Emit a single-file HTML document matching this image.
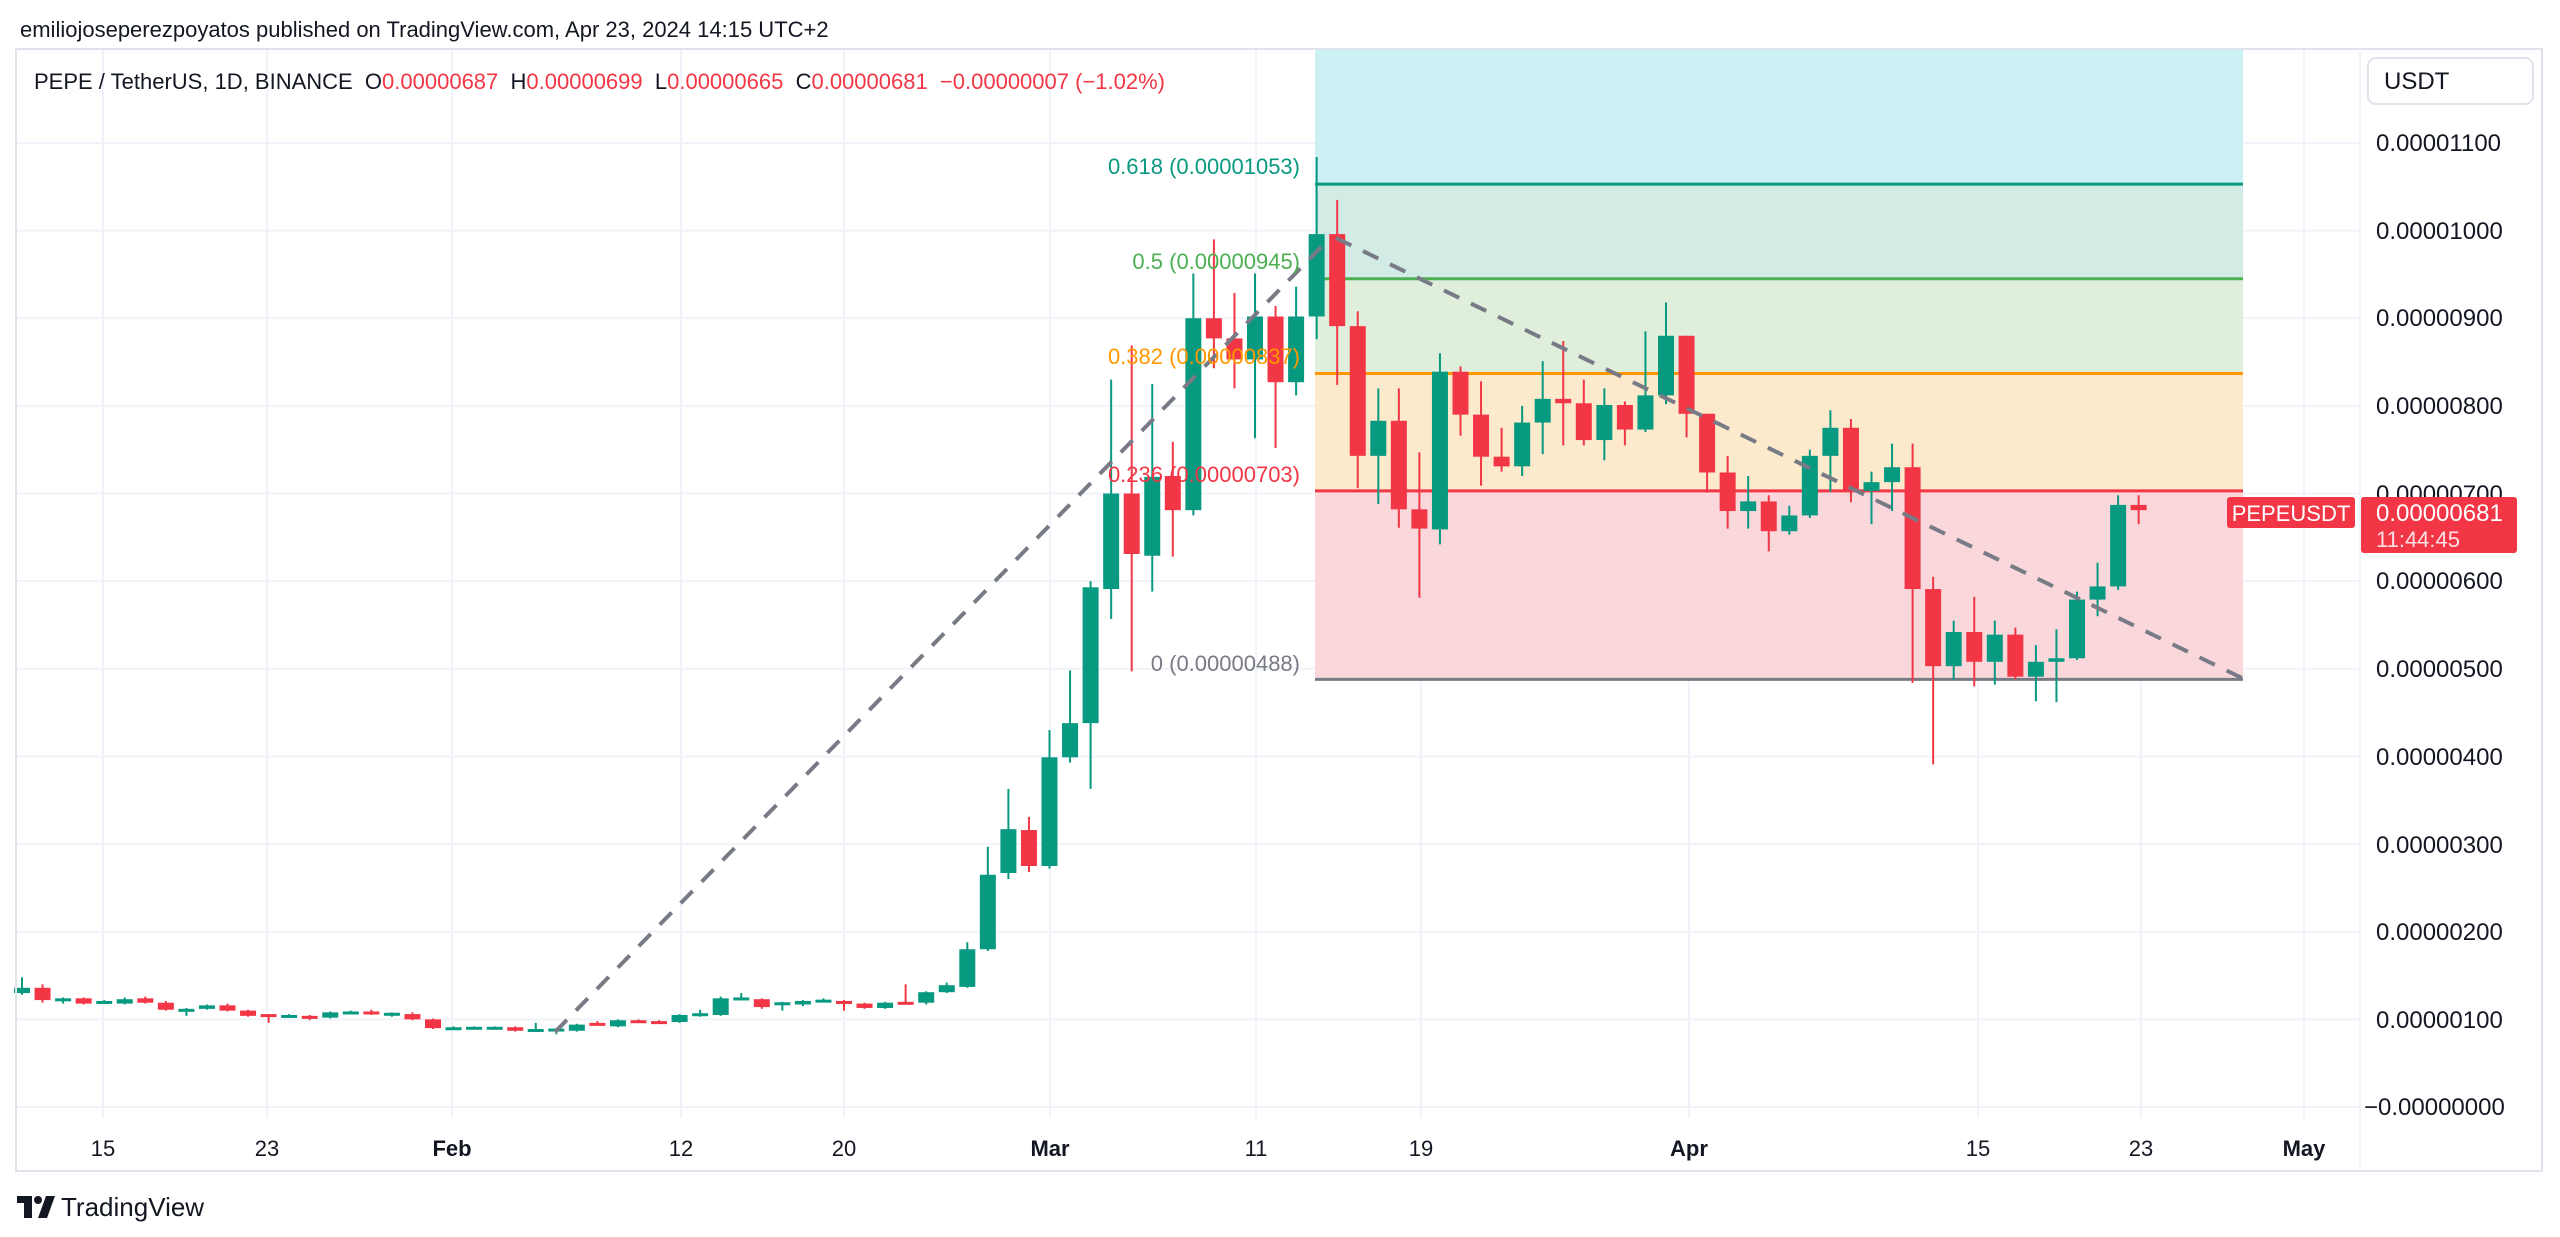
<!DOCTYPE html>
<html><head><meta charset="utf-8">
<style>
html,body{margin:0;padding:0;background:#fff;}
body{width:2560px;height:1237px;overflow:hidden;position:relative;font-family:"Liberation Sans",sans-serif;color:#131722;}
svg{position:absolute;left:0;top:0;}
</style></head><body>
<svg id="c" width="2560" height="1237" xmlns="http://www.w3.org/2000/svg" font-family="Liberation Sans, sans-serif">
<g id="grid" stroke="#f0f3fa" stroke-width="2"></g>
<g id="fib"></g>
<g id="cand"></g>
<g id="dash" stroke="#787b86" stroke-width="4" stroke-dasharray="17,13" fill="none">
<line x1="555" y1="1032" x2="1330" y2="238"/>
<line x1="1336" y1="238" x2="2242" y2="678"/>
</g>
<g font-size="22" text-anchor="end">
<text x="1300" y="174" fill="#089981">0.618 (0.00001053)</text>
<text x="1300" y="269" fill="#4caf50">0.5 (0.00000945)</text>
<text x="1300" y="364" fill="#ff9800">0.382 (0.00000837)</text>
<text x="1300" y="482" fill="#f23645">0.236 (0.00000703)</text>
<text x="1300" y="671" fill="#787b86">0 (0.00000488)</text>
</g>
<rect x="16" y="49" width="2526" height="1122" fill="none" stroke="#e0e3eb" stroke-width="2"/>
<line x1="2360" y1="49" x2="2360" y2="1171" stroke="#f0f3fa" stroke-width="2"/>
<text x="20" y="37" font-size="22" fill="#131722">emiliojoseperezpoyatos published on TradingView.com, Apr 23, 2024 14:15 UTC+2</text>
<text x="34" y="89" font-size="22" fill="#131722" xml:space="preserve">PEPE / TetherUS, 1D, BINANCE  O<tspan fill="#f23645">0.00000687</tspan>  H<tspan fill="#f23645">0.00000699</tspan>  L<tspan fill="#f23645">0.00000665</tspan>  C<tspan fill="#f23645">0.00000681  −0.00000007 (−1.02%)</tspan></text>
<rect x="2368" y="58" width="165" height="46" rx="8" fill="#fff" stroke="#e0e3eb" stroke-width="2"/>
<text x="2384" y="89" font-size="24" fill="#131722">USDT</text>
<g id="plab" font-size="24" fill="#131722">
<text x="2376" y="151">0.00001100</text>
<text x="2376" y="239">0.00001000</text>
<text x="2376" y="326">0.00000900</text>
<text x="2376" y="414">0.00000800</text>
<text x="2376" y="502">0.00000700</text>
<text x="2376" y="589">0.00000600</text>
<text x="2376" y="677">0.00000500</text>
<text x="2376" y="765">0.00000400</text>
<text x="2376" y="853">0.00000300</text>
<text x="2376" y="940">0.00000200</text>
<text x="2376" y="1028">0.00000100</text>
<text x="2364" y="1115">−0.00000000</text>
</g>
<g font-size="22" fill="#131722" text-anchor="middle">
<text x="103" y="1156">15</text><text x="267" y="1156">23</text>
<text x="452" y="1156" font-weight="bold">Feb</text>
<text x="681" y="1156">12</text><text x="844" y="1156">20</text>
<text x="1050" y="1156" font-weight="bold">Mar</text>
<text x="1256" y="1156">11</text><text x="1421" y="1156">19</text>
<text x="1689" y="1156" font-weight="bold">Apr</text>
<text x="1978" y="1156">15</text><text x="2141" y="1156">23</text>
<text x="2304" y="1156" font-weight="bold">May</text>
</g>
<rect x="2227" y="497" width="128" height="31" rx="3" fill="#f23645"/>
<text x="2291" y="521" font-size="22" fill="#fff" text-anchor="middle">PEPEUSDT</text>
<rect x="2361" y="497" width="156" height="56" rx="3" fill="#f23645"/>
<text x="2376" y="521" font-size="24" fill="#fff">0.00000681</text>
<text x="2376" y="547" font-size="22" fill="#fde0e3">11:44:45</text>
<g fill="#131722">
<rect x="17" y="1196" width="15" height="7"/><rect x="24" y="1196" width="8" height="22"/>
<circle cx="38" cy="1200" r="4"/><polygon points="46,1196 55,1196 47,1218 38,1218"/>
</g>
<text x="61" y="1216" font-size="26" fill="#131722">TradingView</text>
</svg>
<script>
var NS="http://www.w3.org/2000/svg";
function Y(p){return 1107-p*87.64;}
function el(t,a,parent){var e=document.createElementNS(NS,t);for(var k in a)e.setAttribute(k,a[k]);parent.appendChild(e);return e;}
var grid=document.getElementById('grid');
for(var k=0;k<=11;k++){el('line',{x1:16,x2:2360,y1:Y(k),y2:Y(k)},grid);}
[103,267,452,681,844,1050,1256,1421,1689,1978,2141,2304].forEach(function(x){el('line',{x1:x,x2:x,y1:49,y2:1118},grid);});
var fib=document.getElementById('fib');
var x1=1315,x2=2243;
var lv=[[12.07,'#ccf1f4'],[10.53,'#d2ebe5'],[9.45,'#dfefdb'],[8.37,'#fde9cc'],[7.03,'#f9d7db'],[4.88,null]];
for(var i=0;i<lv.length-1;i++){el('rect',{x:x1,y:Y(lv[i][0]),width:x2-x1,height:Y(lv[i+1][0])-Y(lv[i][0]),fill:lv[i][1]},fib);}
[[10.53,'#089981'],[9.45,'#4caf50'],[8.37,'#ff9800'],[7.03,'#f23645'],[4.88,'#787b86']].forEach(function(l){el('line',{x1:x1,x2:x2,y1:Y(l[0]),y2:Y(l[0]),stroke:l[1],'stroke-width':3},fib);});
var d=[
[1.30,1.48,1.28,1.36],[1.36,1.40,1.19,1.22],[1.23,1.25,1.18,1.24],[1.24,1.25,1.17,1.18],[1.20,1.22,1.19,1.21],[1.18,1.25,1.17,1.23],[1.24,1.26,1.18,1.19],[1.19,1.21,1.10,1.11],[1.11,1.13,1.04,1.12],[1.12,1.17,1.11,1.16],
[1.16,1.18,1.09,1.10],[1.10,1.11,1.03,1.04],[1.06,1.06,0.96,1.05],[1.04,1.06,1.03,1.05],[1.04,1.05,0.99,1.03],[1.02,1.09,1.01,1.08],[1.08,1.10,1.07,1.09],[1.09,1.11,1.05,1.06],[1.065,1.08,1.03,1.075],[1.06,1.08,0.99,1.00],
[1.00,1.01,0.89,0.90],[0.90,0.92,0.89,0.91],[0.905,0.92,0.90,0.915],[0.905,0.92,0.90,0.915],[0.91,0.92,0.86,0.87],[0.88,0.96,0.87,0.89],[0.885,0.90,0.83,0.895],[0.87,0.95,0.86,0.94],[0.96,0.98,0.93,0.94],[0.92,1.00,0.91,0.99],
[0.99,1.00,0.97,0.98],[0.98,0.99,0.96,0.97],[0.97,1.06,0.96,1.05],[1.06,1.11,1.03,1.07],[1.05,1.26,1.04,1.24],[1.24,1.30,1.22,1.25],[1.23,1.24,1.12,1.14],[1.185,1.20,1.10,1.195],[1.17,1.22,1.15,1.21],[1.215,1.24,1.20,1.225],
[1.21,1.22,1.10,1.20],[1.18,1.19,1.12,1.13],[1.13,1.20,1.12,1.19],[1.20,1.40,1.18,1.19],[1.19,1.32,1.17,1.31],[1.31,1.42,1.30,1.39],[1.37,1.88,1.36,1.80],[1.80,2.97,1.78,2.65],[2.67,3.63,2.60,3.17],[3.16,3.31,2.68,2.75],
[2.75,4.30,2.72,3.99],[3.99,4.98,3.93,4.38],[4.38,6.0,3.63,5.93],[5.91,8.30,5.57,7.0],[7.0,8.69,4.97,6.31],[6.29,8.25,5.88,7.19],[7.20,7.59,6.28,6.81],[6.81,9.51,6.75,9.0],[9.0,9.90,8.43,8.77],[8.77,9.29,8.20,8.53],
[8.53,9.51,7.63,9.02],[9.02,9.14,7.52,8.27],[8.27,9.36,8.12,9.02],[9.02,10.84,8.76,9.96],[9.96,10.35,8.24,8.91],[8.91,9.08,7.06,7.43],[7.43,8.20,6.88,7.83],[7.83,8.20,6.61,6.82],[6.82,7.47,5.81,6.60],[6.59,8.60,6.42,8.39],
[8.39,8.45,7.66,7.90],[7.90,8.28,7.09,7.42],[7.42,7.75,7.25,7.31],[7.31,8.00,7.20,7.81],[7.81,8.51,7.45,8.08],[8.08,8.74,7.55,8.03],[8.03,8.30,7.55,7.61],[7.61,8.20,7.38,8.01],[8.01,8.05,7.55,7.73],[7.73,8.85,7.70,8.12],
[8.12,9.18,8.02,8.80],[8.80,8.80,7.64,7.91],[7.91,7.91,7.01,7.24],[7.24,7.43,6.60,6.80],[6.80,7.20,6.60,6.91],[6.91,6.98,6.34,6.57],[6.57,6.86,6.53,6.75],[6.75,7.50,6.72,7.43],[7.43,7.95,7.02,7.75],[7.75,7.85,6.90,7.03],
[7.03,7.25,6.65,7.13],[7.13,7.57,6.80,7.30],[7.30,7.57,4.84,5.91],[5.91,6.05,3.91,5.03],[5.03,5.55,4.87,5.42],[5.42,5.82,4.80,5.08],[5.08,5.55,4.82,5.39],[5.39,5.47,4.88,4.91],[4.91,5.27,4.63,5.08],[5.08,5.45,4.62,5.12],
[5.12,5.88,5.10,5.79],[5.79,6.21,5.60,5.94],[5.94,6.98,5.90,6.87],[6.87,6.98,6.65,6.81]];
var cg=document.getElementById('cand');
d.forEach(function(c,i){
 var x=22+i*20.55,o=c[0],h=c[1],l=c[2],cl=c[3];
 var col=cl>=o?'#089981':'#f23645';
 el('line',{x1:x,x2:x,y1:Y(h),y2:Y(l),stroke:col,'stroke-width':2},cg);
 var top=Y(Math.max(o,cl)),bot=Y(Math.min(o,cl));
 el('rect',{x:x-8,y:top,width:16,height:Math.max(bot-top,3),fill:col},cg);
});
</script>
</body></html>
